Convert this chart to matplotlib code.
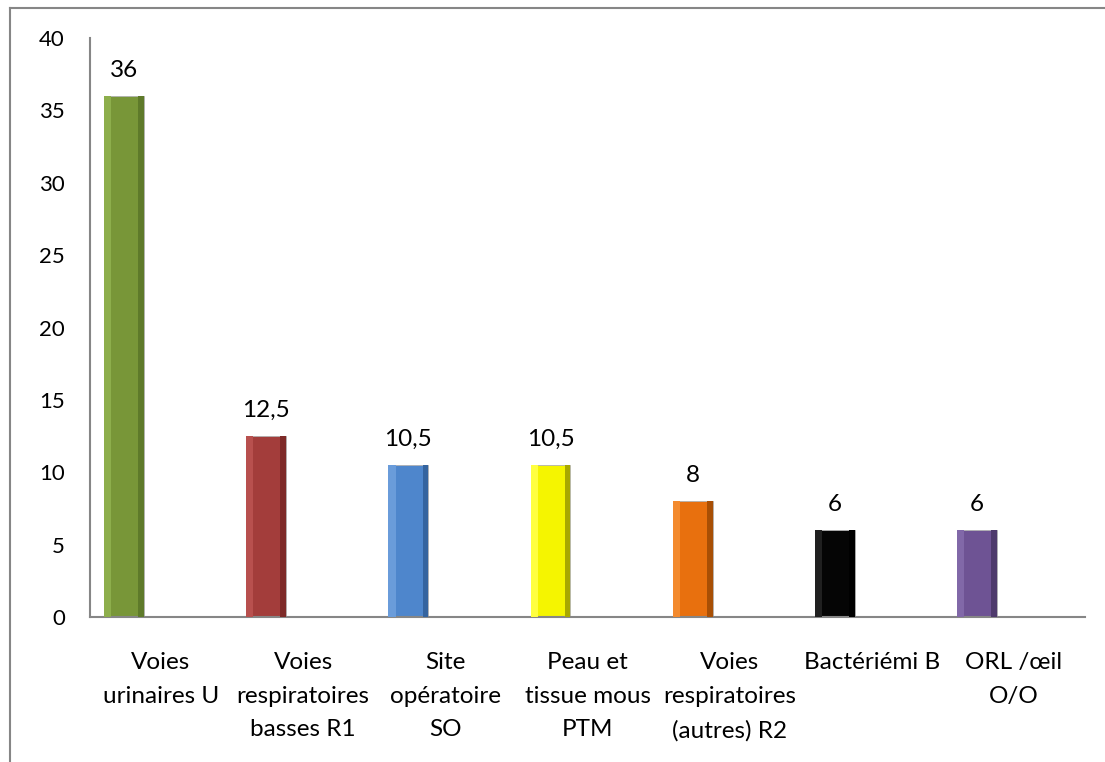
import numpy as np
import matplotlib.pyplot as plt
from matplotlib.lines import Line2D

# Données du graphique
categories = ["Voies\nurinaires U", "Voies\nrespiratoires\nbasses R1", "Site\nopératoire\nSO",
              "Peau et\ntissue mous\nPTM", "Voies\nrespiratoires\n(autres) R2", "Bactériémi B",
              "ORL /œil\nO/O"]
valeurs = [36, 12.5, 10.5, 10.5, 8, 6, 6]
etiquettes = ["36", "12,5", "10,5", "10,5", "8", "6", "6"]
couleurs = ["#789638", "#A33D3B", "#4E86CC", "#F5F500", "#E8700E", "#050505", "#6E5394"]
couleurs_sombres = ["#5E7A2A", "#7E2A28", "#35649F", "#A8A800", "#A84F05", "#000000", "#4E3A6C"]
couleurs_claires = ["#8DAE4C", "#B8504E", "#6A9CDA", "#FFFF40", "#F38A2E", "#202020", "#8168A8"]

plt.rcParams['font.family'] = ['Lato', 'DejaVu Sans']

fig = plt.figure(figsize=(11.05, 7.62), dpi=100)
ax = fig.add_axes([0.0814, 0.190, 0.9006, 0.760])

x = np.arange(len(valeurs))
pos = x - 0.26
w = 0.28

ax.bar(pos, valeurs, width=w, color=couleurs, edgecolor="#B0B0B0", linewidth=0.6, zorder=2)
# effet de relief : bord gauche clair, bord droit sombre
ax.bar(pos - w / 2 + 0.025, valeurs, width=0.05, color=couleurs_claires, linewidth=0, zorder=3)
ax.bar(pos + w / 2 - 0.02, valeurs, width=0.04, color=couleurs_sombres, linewidth=0, zorder=3)

for p, v, t in zip(pos, valeurs, etiquettes):
    ax.annotate(t, (p, v), xytext=(0, 14), textcoords="offset points",
                ha="center", va="baseline", fontsize=17.5, color="black")

ax.set_xlim(-0.5, len(valeurs) - 0.5)
ax.set_ylim(0, 40)
ax.set_yticks(np.arange(0, 41, 5))
ax.set_xticks(x)
ax.set_xticklabels(categories, fontsize=17.5, linespacing=1.75)
ax.tick_params(axis="y", length=0, pad=18, labelsize=16)
ax.tick_params(axis="x", length=0, pad=25)

for s in ["top", "right"]:
    ax.spines[s].set_visible(False)
for s in ["left", "bottom"]:
    ax.spines[s].set_color("#868686")
    ax.spines[s].set_linewidth(1.5)

# cadre du graphique (coupé à droite et en bas)
fig.add_artist(Line2D([0.0095, 0.0095], [0, 0.9895], color="#868686", lw=1.5))
fig.add_artist(Line2D([0.0095, 1], [0.9895, 0.9895], color="#868686", lw=1.5))

fig.savefig("out.png", dpi=100)
